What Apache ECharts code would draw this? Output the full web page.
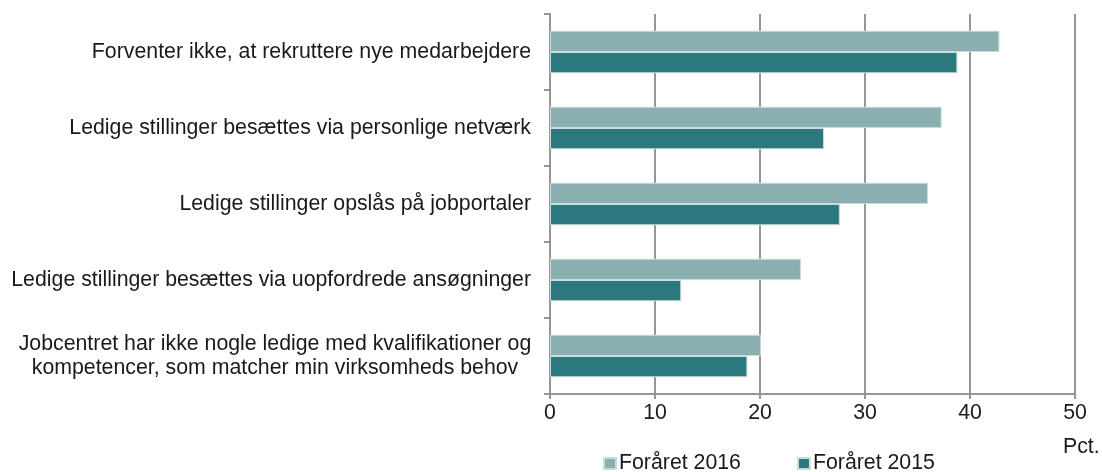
<!DOCTYPE html>
<html>
<head>
<meta charset="utf-8">
<script src="https://cdn.jsdelivr.net/npm/echarts@6/dist/echarts.min.js"></script>
<style>
  html, body { margin: 0; padding: 0; background: #ffffff; }
  #chart { width: 1102px; height: 472px; }
</style>
</head>
<body>
<div id="chart"></div>
<script>
const categories = [
  'Forventer ikke, at rekruttere nye medarbejdere',
  'Ledige stillinger besættes via personlige netværk',
  'Ledige stillinger opslås på jobportaler',
  'Ledige stillinger besættes via uopfordrede ansøgninger',
  'Jobcentret har ikke nogle ledige med kvalifikationer og\nkompetencer, som matcher min virksomheds behov'
]
const spring2016 = [42.8, 37.3, 36.0, 23.9, 20.1]
const spring2015 = [38.8, 26.1, 27.6, 12.5, 18.8]
const xTicks = [0, 10, 20, 30, 40, 50]

const chart = echarts.init(document.getElementById('chart'))
const font = '"Liberation Sans", Arial, sans-serif'
const fs = 21.3

const option = {
  backgroundColor: '#ffffff',
  animation: false,
  grid: {
    left: 550,
    right: 27,
    top: 14,
    bottom: 78
  },
  legend: {
    left: 603,
    top: 453,
    padding: 0,
    itemWidth: 12,
    itemHeight: 11,
    itemGap: 56,
    icon: 'rect',
    textStyle: {
      fontFamily: font,
      fontSize: fs,
      color: '#1a1a1a',
      padding: [0, 0, 0, -2]
    },
    data: ['Foråret 2016', 'Foråret 2015']
  },
  graphic: [
    {
      type: 'text',
      left: 1063,
      top: 437,
      style: {
        text: 'Pct.',
        font: fs + 'px ' + font,
        fill: '#1a1a1a'
      }
    }
  ],
  xAxis: {
    type: 'value',
    min: xTicks[0],
    max: xTicks[xTicks.length - 1],
    interval: 10,
    axisLine: { show: true, lineStyle: { color: '#969696', width: 2 } },
    axisTick: { show: true, length: 5, lineStyle: { color: '#969696', width: 2 } },
    splitLine: { show: true, lineStyle: { color: '#969696', width: 2 } },
    axisLabel: {
      margin: 9,
      fontFamily: font,
      fontSize: fs,
      color: '#1a1a1a'
    }
  },
  yAxis: {
    type: 'category',
    inverse: true,
    data: categories,
    axisLine: { show: true, lineStyle: { color: '#969696', width: 2 } },
    axisTick: { show: true, length: 6, lineStyle: { color: '#969696', width: 2 } },
    axisLabel: {
      margin: 19,
      fontFamily: font,
      fontSize: fs,
      color: '#1a1a1a',
      formatter: function (v) {
        return v.indexOf('\n') >= 0 ? '{c|' + v + '}' : v
      },
      rich: {
        c: {
          fontFamily: font,
          fontSize: fs,
          color: '#1a1a1a',
          align: 'center',
          width: 512,
          lineHeight: 24
        }
      }
    }
  },
  series: [
    {
      name: 'Foråret 2016',
      type: 'bar',
      data: spring2016,
      barGap: '0%',
      barCategoryGap: '44%',
      itemStyle: { color: '#8aafb1', borderColor: '#c9dcdd', borderWidth: 1 }
    },
    {
      name: 'Foråret 2015',
      type: 'bar',
      data: spring2015,
      barGap: '0%',
      barCategoryGap: '44%',
      itemStyle: { color: '#2b787e', borderColor: '#c9dcdd', borderWidth: 1 }
    }
  ]
}
chart && chart.setOption(option)
</script>
</body>
</html>
